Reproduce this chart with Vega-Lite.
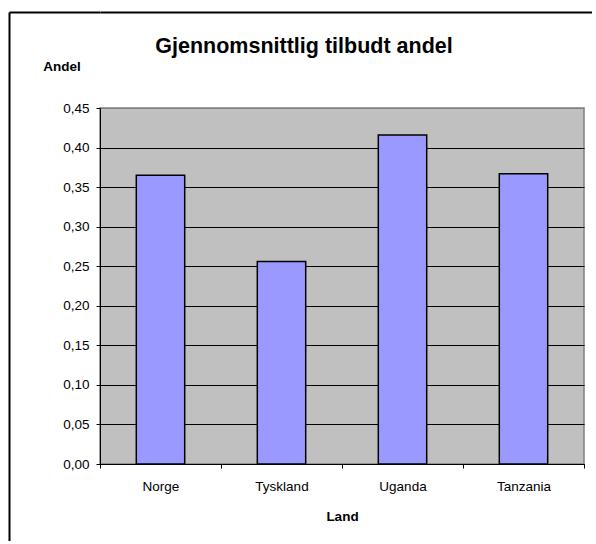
{
  "$schema": "https://vega.github.io/schema/vega-lite/v6.json",
  "padding": {"left": 9, "top": 12, "right": 0, "bottom": 0},
  "background": "white",
  "bounds": "flush",
  "spacing": 0,
  "hconcat": [
    {
      "width": 91,
      "height": 529,
      "view": {"stroke": null, "fill": null},
      "data": {"values": []},
      "mark": "point",
      "encoding": {
        "x": {
          "field": "fx",
          "type": "quantitative",
          "scale": {"domain": [0, 1]},
          "axis": {"orient": "top", "title": null, "labels": false, "ticks": false, "grid": false, "domain": true, "domainColor": "black", "domainWidth": 2}
        },
        "y": {
          "field": "fy",
          "type": "quantitative",
          "scale": {"domain": [0, 1]},
          "axis": {"orient": "left", "title": null, "labels": false, "ticks": false, "grid": false, "domain": true, "domainColor": "black", "domainWidth": 2}
        }
      }
    },
    {
      "bounds": "flush",
      "spacing": 95,
      "vconcat": [
        {
          "width": 492,
          "height": 1,
          "view": {"stroke": null, "fill": null},
          "data": {"values": []},
          "mark": "point",
          "encoding": {
            "x": {
              "field": "fx",
              "type": "quantitative",
              "scale": {"domain": [0, 1]},
              "axis": {"orient": "top", "title": null, "labels": false, "ticks": false, "grid": false, "domain": true, "domainColor": "black", "domainWidth": 2}
            }
          }
        },
        {
          "width": 484,
          "height": 356,
          "title": {
            "text": "Gjennomsnittlig tilbudt andel",
            "font": "Liberation Sans",
            "fontSize": 21.5,
            "fontWeight": "bold",
            "color": "black",
            "anchor": "middle",
            "frame": "group",
            "baseline": "alphabetic",
            "offset": -15,
            "dx": -38
          },
          "data": {
            "values": [
              {"Land": "Norge", "Andel": 0.365},
              {"Land": "Tyskland", "Andel": 0.256},
              {"Land": "Uganda", "Andel": 0.416},
              {"Land": "Tanzania", "Andel": 0.367}
            ]
          },
          "view": {"fill": "#C0C0C0", "stroke": "#808080", "strokeWidth": 1.5},
          "mark": {"type": "bar", "width": {"band": 0.4}, "fill": "#9999FF", "stroke": "black", "strokeWidth": 1.5},
          "encoding": {
            "x": {
              "field": "Land",
              "type": "nominal",
              "sort": null,
              "scale": {"paddingInner": 0, "paddingOuter": 0},
              "axis": {
                "title": "Land",
                "labelAngle": 0,
                "labelFont": "Liberation Sans",
                "labelFontSize": 13.5,
                "labelColor": "black",
                "labelBaseline": "alphabetic",
                "labelPadding": 22,
                "tickBand": "extent",
                "tickSize": 4,
                "tickColor": "black",
                "domainColor": "black",
                "titleFont": "Liberation Sans",
                "titleFontSize": 13.5,
                "titleFontWeight": "bold",
                "titleColor": "black",
                "titleBaseline": "alphabetic",
                "titleY": 56,
                "grid": false
              }
            },
            "y": {
              "field": "Andel",
              "type": "quantitative",
              "scale": {"domain": [0, 0.45], "nice": false},
              "axis": {
                "title": "Andel",
                "titleAngle": 0,
                "titleAlign": "center",
                "titleBaseline": "alphabetic",
                "titleX": -38.5,
                "titleY": -38,
                "titleFont": "Liberation Sans",
                "titleFontSize": 13.5,
                "titleFontWeight": "bold",
                "titleColor": "black",
                "values": [0, 0.05, 0.1, 0.15, 0.2, 0.25, 0.3, 0.35, 0.4, 0.45],
                "labelExpr": "replace(format(datum.value, '.2f'), '.', ',')",
                "labelFont": "Liberation Sans",
                "labelFontSize": 13.5,
                "labelColor": "black",
                "labelPadding": 7,
                "tickSize": 4,
                "tickColor": "black",
                "domainColor": "black",
                "grid": true,
                "gridColor": {"condition": {"test": "datum.value >= 0.45", "value": "#808080"}, "value": "black"},
                "gridOpacity": 1,
                "gridWidth": 1
              }
            }
          }
        }
      ]
    }
  ]
}
